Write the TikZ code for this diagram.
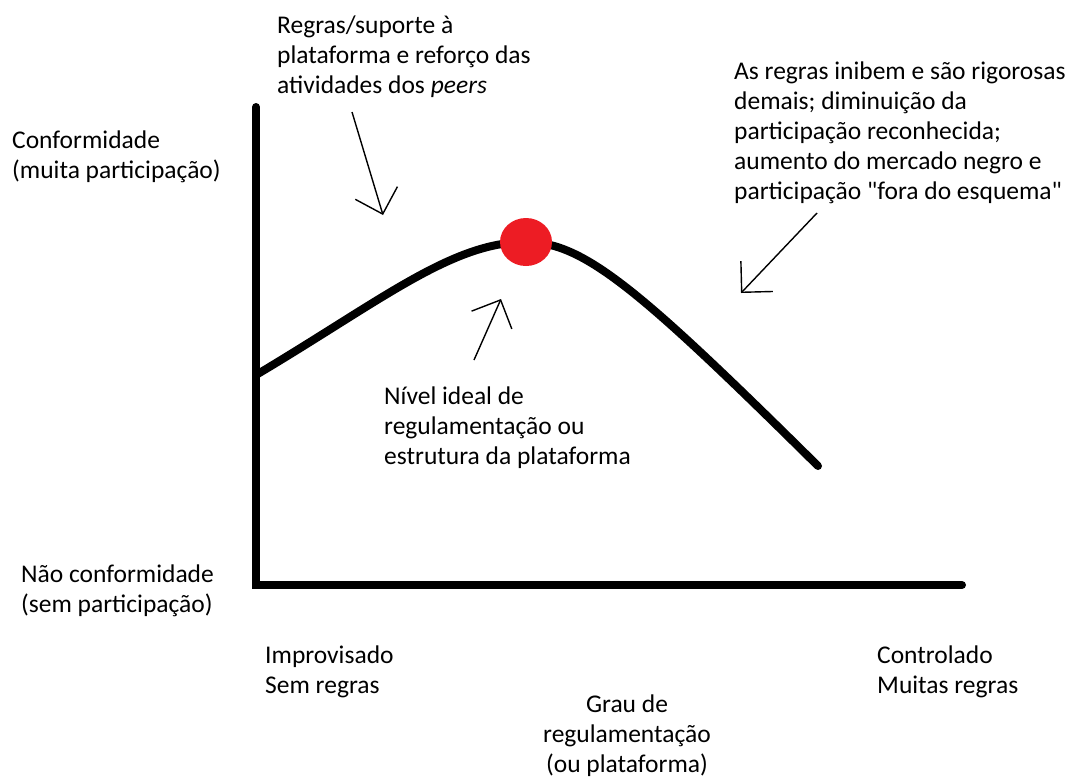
\documentclass[tikz,border=0pt]{standalone}
\usepackage{fontspec}
\setmainfont{Carlito}[Ligatures=TeXOff]
\usepackage{tikz}
\usetikzlibrary{arrows.meta, positioning, calc}
\definecolor{dotred}{HTML}{ED1C24}
\tikzset{
  lbl/.style={font=\fontsize{25.5}{30}\selectfont, inner sep=0pt, align=left, anchor=north west},
  axis/.style={line width=8pt, line cap=round},
  hand/.style={line width=1.4pt, -{Straight Barb[length=22pt,width=44pt,line width=1.4pt]}}
}
\begin{document}
\begin{tikzpicture}[x=1pt, y=-1pt]
\useasboundingbox (0,0) rectangle (1070,780);

% Axes
\coordinate (origin) at (256,585);
\coordinate (ytop) at (256,107);
\coordinate (xend) at (962,585);
\draw[axis, line join=miter] (ytop) -- (origin) -- (xend);

% Participation curve
\coordinate (cstart) at (256,375);
\coordinate (peak) at (526,242);
\coordinate (cend) at (818,466);
\draw[axis] (cstart) .. controls (382,300) and (452,242) .. (peak)
  .. controls (584,242) and (640,290) .. (cend);

% Ideal point
\fill[dotred] (peak) ellipse (26 and 24);

% Axis labels
\node[lbl] (ylabeltop) at (12,131) {Conformidade\\(muita participação)};
\node[lbl] (ylabelbottom) at (21,565) {Não conformidade\\(sem participação)};
\node[lbl] (xlabelleft) at (265,646) {Improvisado\\Sem regras};
\node[lbl] (xlabelright) at (877,646) {Controlado\\Muitas regras};
\node[lbl, align=center, anchor=north] (xlabel) at (627,695) {Grau de\\regulamentação\\(ou plataforma)};

% Notes
\node[lbl] (notepeers) at (277,16) {Regras/suporte à\\plataforma e reforço das\\atividades dos \textit{peers}};
\node[lbl] (noterules) at (734,62) {As regras inibem e são rigorosas\\demais; diminuição da\\participação reconhecida;\\aumento do mercado negro e\\participação "fora do esquema"};
\node[lbl] (noteideal) at (384,387) {Nível ideal de\\regulamentação ou\\estrutura da plataforma};

% Hand-drawn pointers
\coordinate (p1s) at (352,112);
\coordinate (p1e) at (383,215);
\coordinate (p2s) at (474,360);
\coordinate (p2e) at (501,299);
\coordinate (p3s) at (817,213);
\coordinate (p3e) at (741,293);
\draw[hand] (p1s) -- (p1e);
\draw[hand] (p2s) -- (p2e);
\draw[hand] (p3s) -- (p3e);
\end{tikzpicture}
\end{document}
